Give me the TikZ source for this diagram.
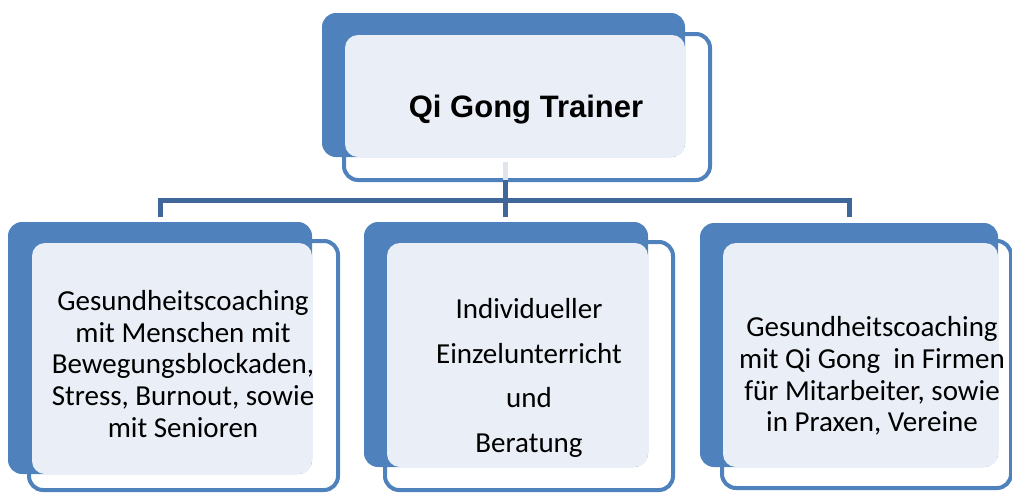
\documentclass[tikz,border=0pt]{standalone}
\usepackage{fontspec}
\setmainfont{Carlito}
\newfontfamily\headfont{Liberation Sans}
\usepackage{tikz}
\usetikzlibrary{positioning}
\usepackage{xcolor}
\definecolor{qiblue}{HTML}{4F81BD}
\definecolor{qilight}{HTML}{EAEFF7}
\definecolor{qiline}{HTML}{41679A}
\definecolor{qifade}{HTML}{DFE4EC}

\begin{document}
\begin{tikzpicture}[x=1pt,y=-1pt,
    frame/.style={rectangle, draw=qiblue, line width=4pt,
        rounded corners=14pt, inner sep=0pt, outer sep=0pt, anchor=north west},
    back/.style={rectangle, fill=qiblue,
        rounded corners=14pt, inner sep=0pt, outer sep=0pt, anchor=north west},
    front/.style={rectangle, fill=qilight,
        rounded corners=13pt, inner sep=0pt, outer sep=0pt, anchor=south east},
    boxtext/.style={align=center, inner sep=0pt,
        font=\fontsize{29}{31.7}\selectfont},
    link/.style={draw=qiline, line width=5pt}]
    \useasboundingbox (0,0) rectangle (1012,493);
    % Add the connectors
        \coordinate (hub) at (505.5,200.5);
        \coordinate (d1) at (160.5,217);
        \coordinate (d2) at (505.5,217);
        \coordinate (d3) at (849.5,217);
    % Add the outlines
        \node[frame,
            minimum width=366pt,
            minimum height=146pt
            ] (frame0) at (344,34) {};
        \node[frame,
            minimum width=309pt,
            minimum height=249pt
            ] (frame1) at (29,241) {};
        \node[frame,
            minimum width=288pt,
            minimum height=248pt
            ] (frame2) at (385,242) {};
        \node[frame,
            minimum width=289pt,
            minimum height=247pt
            ] (frame3) at (722,241) {};
    % Add the blue backs
        \node[back,
            minimum width=363pt,
            minimum height=144pt
            ] (back0) at (322,13) {};
        \node[back,
            minimum width=304pt,
            minimum height=252pt
            ] (back1) at (8,222) {};
        \node[back,
            minimum width=284pt,
            minimum height=245pt
            ] (back2) at (364,222) {};
        \node[back,
            minimum width=298pt,
            minimum height=244pt
            ] (back3) at (700,223) {};
    % Add the light boxes
        \node[front,
            minimum width=340pt,
            minimum height=122pt
            ] (box0) at (back0.south east) {};
        \node[front,
            minimum width=280pt,
            minimum height=231pt
            ] (box1) at (back1.south east) {};
        \node[front,
            minimum width=261pt,
            minimum height=224pt
            ] (box2) at (back2.south east) {};
        \node[front,
            minimum width=275pt,
            minimum height=224pt
            ] (box3) at (back3.south east) {};
    % Add the texts
        \node[anchor=base, inner sep=0pt,
            font=\headfont\bfseries\fontsize{31}{36}\selectfont
            ] (title) at (526,117) {Qi Gong Trainer};
        \node[boxtext] (txt1) at (183,364)
            {Gesundheitscoaching\\mit Menschen mit\\Bewegungsblockaden,\\Stress, Burnout, sowie\\mit Senioren};
        \node[boxtext,
            font=\fontsize{29}{44.7}\selectfont
            ] (txt2) at (529,378)
            {Individueller\\Einzelunterricht\\und\\Beratung};
        \node[boxtext] (txt3) at (872,376)
            {Gesundheitscoaching\\mit Qi Gong\ \ in Firmen\\f\"ur Mitarbeiter, sowie\\in Praxen, Vereine};

    \draw[link, draw=qifade] ([yshift=-5pt]box0.south -| hub) -- (frame0.south -| hub);
    \draw[link] (frame0.south -| hub) -- (d2);
    \draw[link] (d1) |- (hub) -| (d3);
\end{tikzpicture}
\end{document}
